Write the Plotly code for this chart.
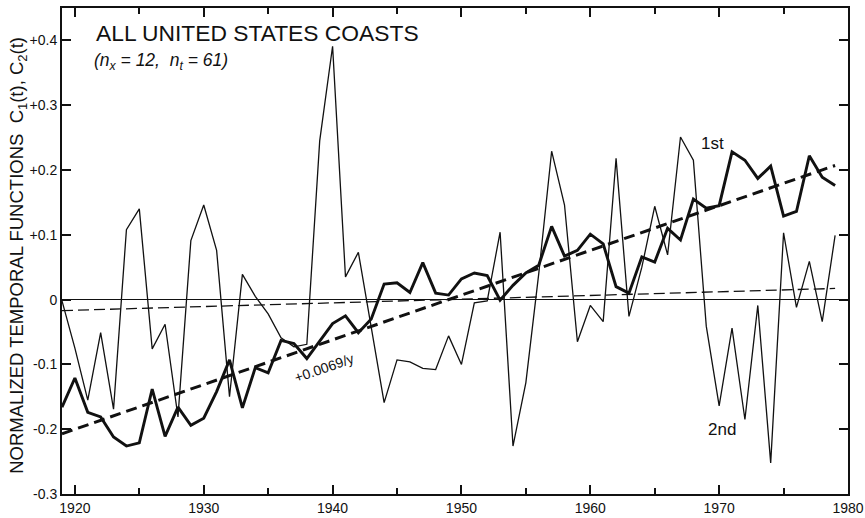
import plotly.graph_objects as go

# Years of record
years = list(range(1919, 1980))

# First temporal function C1(t)
c1 = [-0.166, -0.121, -0.174, -0.181, -0.212, -0.226, -0.221, -0.138, -0.211, -0.166,
      -0.194, -0.183, -0.142, -0.093, -0.167, -0.105, -0.113, -0.063, -0.068, -0.091,
      -0.064, -0.037, -0.025, -0.051, -0.030, 0.024, 0.026, 0.011, 0.057, 0.010,
      0.007, 0.032, 0.041, 0.037, -0.001, 0.022, 0.041, 0.053, 0.113, 0.067,
      0.076, 0.101, 0.086, 0.020, 0.010, 0.066, 0.058, 0.110, 0.092, 0.155,
      0.141, 0.145, 0.228, 0.215, 0.187, 0.206, 0.129, 0.136, 0.222, 0.189,
      0.176]

# Second temporal function C2(t)
c2 = [-0.002, -0.075, -0.155, -0.051, -0.169, 0.108, 0.140, -0.076, -0.038, -0.181,
      0.091, 0.146, 0.076, -0.150, 0.039, 0.005, -0.022, -0.059, -0.073, -0.069,
      0.245, 0.391, 0.035, 0.073, -0.043, -0.159, -0.093, -0.096, -0.106, -0.108,
      -0.056, -0.100, -0.005, -0.002, 0.104, -0.226, -0.128, 0.040, 0.229, 0.146,
      -0.065, -0.009, -0.034, 0.218, -0.026, 0.050, 0.144, 0.069, 0.251, 0.215,
      -0.041, -0.164, -0.044, -0.185, -0.009, -0.252, 0.103, -0.012, 0.059, -0.034,
      0.099]

# Linear trends: start value at 1919 and slope per year
trend1_start, trend1_slope = -0.207, 0.0069
trend2_start, trend2_slope = -0.017, 0.00057

# Axis ticks
x_ticks = [1920, 1930, 1940, 1950, 1960, 1970, 1980]
x_minor = [1925, 1935, 1945, 1955, 1965, 1975]
y_ticks = [-0.3, -0.2, -0.1, 0, 0.1, 0.2, 0.3, 0.4]
y_labels = ["-0.3", "-0.2", "-0.1", "0", "+0.1", "+0.2", "+0.3", "+0.4"]

FONT = "Liberation Sans, Arial, sans-serif"
INK = "#111111"

trend_x = [years[0], years[-1]]
trend1 = [trend1_start + trend1_slope * (y - years[0]) for y in trend_x]
trend2 = [trend2_start + trend2_slope * (y - years[0]) for y in trend_x]

fig = go.Figure()

fig.add_trace(go.Scatter(x=trend_x, y=trend2, mode="lines",
                         line=dict(color=INK, width=1.3, dash="11px,5px"),
                         hoverinfo="skip", showlegend=False))
fig.add_trace(go.Scatter(x=years, y=c2, mode="lines",
                         line=dict(color=INK, width=1.3),
                         name="2nd", showlegend=False))
fig.add_trace(go.Scatter(x=years, y=c1, mode="lines",
                         line=dict(color=INK, width=2.9),
                         name="1st", showlegend=False))
fig.add_trace(go.Scatter(x=trend_x, y=trend1, mode="lines",
                         line=dict(color=INK, width=3, dash="11px,6px"),
                         hoverinfo="skip", showlegend=False))

axis_common = dict(
    showgrid=False, showline=True, linecolor=INK, linewidth=2, mirror="allticks",
    ticks="inside", ticklen=9, tickwidth=1.5, tickcolor=INK,
    tickfont=dict(family=FONT, size=14, color=INK), automargin=False,
)

fig.update_xaxes(range=[1919, 1980], tickmode="array", tickvals=x_ticks,
                 ticktext=[str(v) for v in x_ticks],
                 minor=dict(tickmode="array", tickvals=x_minor, ticks="inside",
                            ticklen=6, tickwidth=1.5, tickcolor=INK),
                 zeroline=False, **axis_common)
fig.update_yaxes(range=[-0.3, 0.45], tickmode="array", tickvals=y_ticks,
                 ticktext=y_labels, zeroline=True, zerolinecolor=INK,
                 zerolinewidth=1.2, **axis_common)

annotations = [
    dict(text="ALL UNITED STATES COASTS", xref="paper", yref="paper",
         x=0.041, y=0.949, xanchor="left", yanchor="middle", showarrow=False,
         font=dict(family=FONT, size=22.8, color=INK)),
    dict(text="<i>(n<sub>x</sub> = 12,  n<sub>t</sub> = 61)</i>", xref="paper", yref="paper",
         x=0.038, y=0.889, xanchor="left", yanchor="middle", showarrow=False,
         font=dict(family=FONT, size=17.5, color=INK)),
    dict(text="NORMALIZED TEMPORAL FUNCTIONS  C<sub>1</sub>(t), C<sub>2</sub>(t)",
         xref="paper", yref="paper", x=-0.056, y=0.492, xanchor="center",
         yanchor="middle", textangle=-90, showarrow=False,
         font=dict(family=FONT, size=18.5, color=INK)),
    dict(text="1st", x=1969.5, y=0.241, showarrow=False,
         font=dict(family=FONT, size=17, color=INK)),
    dict(text="2nd", x=1970.2, y=-0.200, showarrow=False,
         font=dict(family=FONT, size=17, color=INK)),
    dict(text="+0.0069/y", x=1939.3, y=-0.105, textangle=-19, showarrow=False,
         font=dict(family=FONT, size=14, color=INK)),
]

fig.update_layout(
    width=865, height=518,
    margin=dict(l=62, r=17, t=8, b=24),
    paper_bgcolor="white", plot_bgcolor="white",
    annotations=annotations,
    showlegend=False,
)

fig.write_html("out.html")
